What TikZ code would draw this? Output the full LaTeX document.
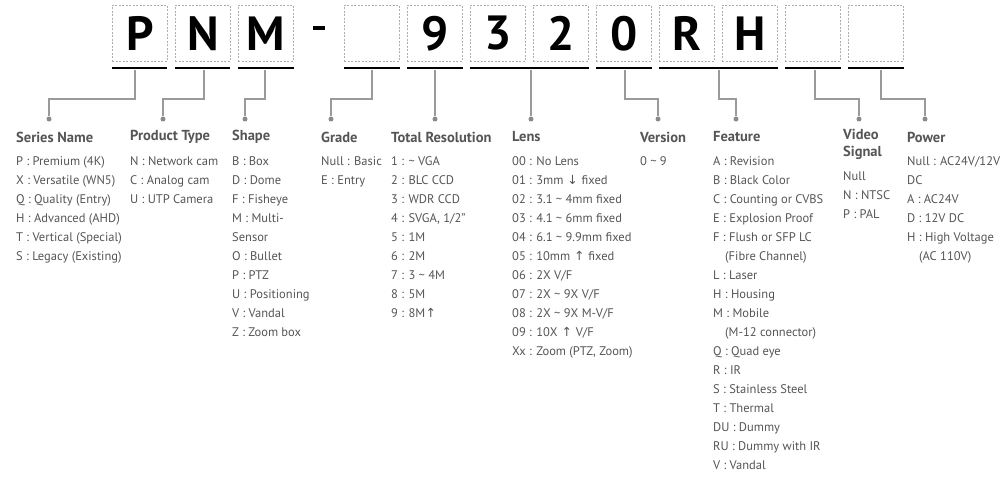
\documentclass[tikz,border=0pt]{standalone}
\usepackage{fontspec}
\setmainfont{PT Sans}
\newfontfamily\arr{DejaVu Sans}
\newcommand{\ua}{{\arr\kern0.5pt↑\kern0.5pt}}
\newcommand{\da}{{\arr\kern0.5pt↓\kern0.5pt}}
\definecolor{txt}{HTML}{555555}
\definecolor{ln}{HTML}{9A9A9A}
\begin{document}
\begin{tikzpicture}[x=1pt,y=-1pt,
 box/.style={draw=ln!80,dashed,dash pattern=on 2pt off 1.5pt,line width=0.6pt,minimum width=55pt,minimum height=56pt,inner sep=0,anchor=north west,font=\fontsize{48}{48}\bfseries\selectfont},
 ul/.style={line width=2.5pt,black},
 con/.style={ln,line width=1.2pt},
 dot/.style={circle,fill=ln!90!black,inner sep=0,minimum size=5pt},
 hd/.style={anchor=west,inner sep=0,font=\fontsize{14.5}{18}\bfseries\selectfont,text=txt,align=left},
 bd/.style={anchor=north west,inner sep=0,font=\fontsize{12.5}{19}\selectfont,text=txt,align=left}]
\useasboundingbox (0,0) rectangle (1006,477);
% boxes
\foreach \x/\t/\n in {112/P/bP,175/N/bN,238/M/bM,344//bG,407/9/b9,470/3/b3,533/2/b2,596/0/b0,659/R/bR,722/H/bH,785//bV,848//bW}
  \node[box] (\n) at (\x,5) {\t};
\node[fill=black,minimum width=12pt,minimum height=4pt,inner sep=0] (dash) at (319,28) {};
% underlines
\foreach \a/\b/\n in {112/167/uP,175/230/uN,238/294/uM,344/400/uG,407/463/u9,470/589/uL,596/652/u0,659/778/uF,785/841/uV,848/904/uW}{
  \coordinate (\n a) at (\a,68); \coordinate (\n b) at (\b,68);
  \draw[ul] (\n a) -- (\n b);}
% connector tops
\foreach \x/\n in {135/tP,204/tN,265/tM,372/tG,435/t9,531/tL,625/t0,719/tF,815/tV,881/tW}
  \coordinate (\n) at (\x,69.5);
\foreach \x/\n in {49/dP,163/dN,245/dM,331/dG,435/d9,531/dL,658/d0,736/dF,859/dV,925/dW}
  \node[dot] (\n) at (\x,119) {};
\foreach \n in {P,N,M,G,0,F,V,W}
  \draw[con] (t\n) -- ++(0,29.5) -| (d\n);
\draw[con] (t9) -- (d9);
\draw[con] (tL) -- (dL);
% headings
\node[hd] (hP) at (16,137) {Series Name};
\node[hd] (hN) at (130,137) {Product Type};
\node[hd] (hM) at (232,137) {Shape};
\node[hd] (hG) at (321,137) {Grade};
\node[hd] (h9) at (391,137) {Total Resolution};
\node[hd] (hL) at (512,137) {Lens};
\node[hd] (h0) at (640,137) {Version};
\node[hd] (hF) at (713,137) {Feature};
\node[hd,anchor=north west] (hV) at (843,129) {Video\\[-1pt]Signal};
\node[hd] (hW) at (907,137) {Power};
% bodies
\node[bd] (bdP) at (16,156) {P : Premium (4K)\\X : Versatile (WN5)\\Q : Quality (Entry)\\H : Advanced (AHD)\\T : Vertical (Special)\\S : Legacy (Existing)};
\node[bd] (bdN) at (130,156) {N : Network cam\\C : Analog cam\\U : UTP Camera};
\node[bd] (bdM) at (232,156) {B : Box\\D : Dome\\F : Fisheye\\M : Multi-\\Sensor\\O : Bullet\\P : PTZ\\U : Positioning\\V : Vandal\\Z : Zoom box};
\node[bd] (bdG) at (321,156) {Null : Basic\\E : Entry};
\node[bd] (bd9) at (391,156) {1 : \textasciitilde\ VGA\\2 : BLC CCD\\3 : WDR CCD\\4 : SVGA, 1/2”\\5 : 1M\\6 : 2M\\7 : 3 \textasciitilde\ 4M\\8 : 5M\\9 : 8M\ua};
\node[bd] (bdL) at (512,156) {00 : No Lens\\01 : 3mm \da\ fixed\\02 : 3.1 \textasciitilde\ 4mm fixed\\03 : 4.1 \textasciitilde\ 6mm fixed\\04 : 6.1 \textasciitilde\ 9.9mm fixed\\05 : 10mm \ua\ fixed\\06 : 2X V/F\\07 : 2X \textasciitilde\ 9X V/F\\08 : 2X \textasciitilde\ 9X M-V/F\\09 : 10X \ua\ V/F\\Xx : Zoom (PTZ, Zoom)};
\node[bd] (bd0) at (640,156) {0 \textasciitilde\ 9};
\node[bd] (bdF) at (713,156) {A : Revision\\B : Black Color\\C : Counting or CVBS\\E : Explosion Proof\\F : Flush or SFP LC\\\hspace*{12pt}(Fibre Channel)\\L : Laser\\H : Housing\\M : Mobile\\\hspace*{12pt}(M-12 connector)\\Q : Quad eye\\R : IR\\S : Stainless Steel\\T : Thermal\\DU : Dummy\\RU : Dummy with IR\\V : Vandal};
\node[bd] (bdV) at (843,171) {Null\\N : NTSC\\P : PAL};
\node[bd] (bdW) at (907,156) {Null : AC24V/12V\\DC\\A : AC24V\\D : 12V DC\\H : High Voltage\\\hspace*{12pt}(AC 110V)};
\end{tikzpicture}
\end{document}
